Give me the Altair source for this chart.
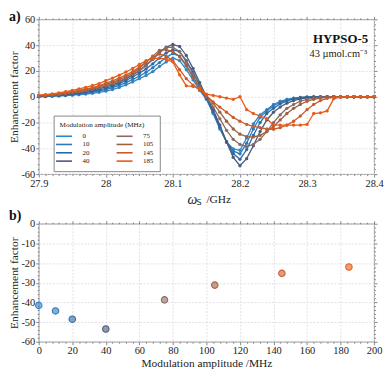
import altair as alt
import pandas as pd

# ---------------- data ----------------
freq = [27.90, 27.91, 27.92, 27.93, 27.94, 27.95, 27.96, 27.97, 27.98, 27.99,
        28.00, 28.01, 28.02, 28.03, 28.04, 28.05, 28.06, 28.07, 28.08, 28.09,
        28.10, 28.11, 28.12, 28.13, 28.14, 28.15, 28.16, 28.17, 28.18, 28.19,
        28.20, 28.21, 28.22, 28.23, 28.24, 28.25, 28.26, 28.27, 28.28, 28.29,
        28.30, 28.31, 28.32, 28.33, 28.34, 28.35, 28.36, 28.37, 28.38, 28.39,
        28.40]

mods = ["0", "10", "20", "40", "75", "105", "145", "185"]
colors = ["#2f86c8", "#2f78b8", "#2f68a0", "#4a5a78",
          "#8a6a62", "#a0603f", "#c85c2a", "#e85a18"]

s0 = [0.0, 0.2, 0.4, 0.6, 0.9, 1.2, 1.6, 2.1, 2.7, 3.4, 4.3,
      5.6, 7.2, 9.2, 11.5, 14.0, 16.5, 19.5, 23.5, 27.0, 30.0,
      28.0, 21.0, 13.0, 5.0, -2.0, -13.0, -25.0, -35.0, -40.5, -41.5,
      -32.0, -21.0, -14.0, -10.0, -6.0, -3.5, -2.0, -1.0, -0.5, -0.3,
      -0.2, -0.1, 0, 0, 0, 0, 0, 0, 0, 0]
s10 = [0.2, 0.3, 0.5, 0.8, 1.1, 1.6, 2.1, 2.8, 3.6, 4.5, 5.5,
       7.0, 8.8, 11.0, 13.4, 16.0, 19.0, 22.5, 26.5, 30.5, 33.5,
       31.5, 24.5, 15.5, 6.5, -1.5, -12.0, -24.0, -35.0, -42.0, -44.3,
       -36.0, -25.0, -16.0, -11.0, -7.0, -4.5, -2.5, -1.2, -0.6, -0.3,
       -0.2, -0.1, 0, 0, 0, 0, 0, 0, 0, 0]
s20 = [0.3, 0.5, 0.7, 1.0, 1.4, 2.0, 2.6, 3.4, 4.3, 5.4, 6.5,
       8.2, 10.2, 12.6, 15.3, 18.2, 21.6, 25.5, 30.0, 34.0, 36.5,
       35.0, 28.0, 19.0, 9.0, -1.0, -11.5, -23.5, -35.0, -44.0, -48.5,
       -41.0, -30.0, -20.0, -13.0, -9.0, -5.5, -3.2, -1.8, -0.9, -0.4,
       -0.2, -0.1, 0, 0, 0, 0, 0, 0, 0, 0]
s40 = [0.5, 0.7, 1.0, 1.4, 1.9, 2.5, 3.2, 4.1, 5.1, 6.3, 7.6,
       9.3, 11.3, 13.8, 16.7, 20.0, 24.3, 29.0, 34.0, 38.5, 40.5,
       39.0, 32.0, 22.0, 11.0, 0.0, -10.0, -22.0, -35.0, -47.0, -53.5,
       -48.0, -38.0, -27.0, -18.0, -12.0, -8.0, -5.0, -3.0, -1.6, -0.8,
       -0.3, -0.1, 0, 0, 0, 0, 0, 0, 0, 0]
s75 = [0.6, 0.9, 1.3, 1.8, 2.4, 3.1, 3.9, 4.8, 5.9, 7.1, 8.5,
       10.2, 12.2, 14.5, 17.2, 20.5, 24.5, 29.0, 35.0, 38.0, 38.5,
       35.0, 27.0, 18.0, 8.5, 0.0, -8.0, -17.0, -26.0, -33.0, -37.0,
       -38.7, -37.0, -33.0, -27.0, -20.0, -14.0, -9.0, -6.0, -3.5, -2.0,
       -1.0, -0.5, -0.2, 0, 0, 0, 0, 0, 0, 0]
s105 = [0.8, 1.1, 1.6, 2.1, 2.8, 3.6, 4.5, 5.5, 6.7, 8.0, 9.5,
        11.2, 13.2, 15.5, 18.2, 22.0, 26.5, 31.5, 36.0, 36.5, 35.0,
        31.0, 24.0, 15.0, 7.0, 0.5, -5.0, -12.0, -19.0, -25.0, -29.0,
        -31.0, -31.2, -30.0, -27.0, -23.0, -18.0, -13.0, -9.0, -6.0, -3.5,
        -2.0, -1.0, -0.4, -0.1, 0, 0, 0, 0, 0, 0]
s145 = [1.0, 1.4, 1.9, 2.5, 3.2, 4.0, 4.9, 5.9, 7.1, 8.5, 10.5,
        12.3, 14.4, 16.8, 19.5, 23.0, 27.0, 31.0, 33.0, 31.5, 28.0,
        21.0, 14.0, 9.0, 5.0, 1.0, -4.0, -8.0, -12.0, -16.0, -19.0,
        -21.5, -23.0, -24.0, -25.0, -25.2, -24.0, -22.0, -19.0, -15.0, -10.0,
        -6.0, -3.0, -1.2, -0.4, 0, 0, 0, 0, 0, 0]
s185 = [1.2, 1.7, 2.3, 3.0, 3.9, 5.0, 6.1, 7.3, 8.7, 10.2, 12.5,
        14.5, 16.7, 19.2, 21.9, 25.0, 28.0, 29.5, 30.0, 29.0, 27.0,
        17.0, 8.5, 8.0, 6.5, 2.0, 1.0, 0.0, -1.0, -2.0, 0.0,
        -10.0, -13.0, -15.0, -17.0, -22.0, -22.0, -22.0, -22.0, -22.0, -21.5,
        -13.0, -12.5, -11.0, -1.5, -0.3, 0, 0, 0, 0, 0]
series = [s0, s10, s20, s40, s75, s105, s145, s185]

mod_amp = [0, 10, 20, 40, 75, 105, 145, 185]
ef_min = [-41.5, -44.3, -48.5, -53.5, -38.7, -31.2, -25.2, -22.0]

# ---------------- tables ----------------
rows = []
for m, s in zip(mods, series):
    for f, v in zip(freq, s):
        rows.append({"f": f, "ef": v, "mod": m})
df = pd.DataFrame(rows)
dfb = pd.DataFrame({"amp": mod_amp, "ef": ef_min, "mod": mods})

cscale = alt.Scale(domain=mods, range=colors)

FONT = "Liberation Serif"
W = 338
HA = 156
HB = 119
GRID = "#d9d9e3"


def cond(test, a, b):
    return {"condition": {"test": test, "value": a}, "value": b}


def major(step):
    return f"abs(datum.value/{step} - round(datum.value/{step})) < 0.001"


def main_axis(vals, lab_step, grid_step, title=None):
    return alt.Axis(values=vals,
                    labelExpr=f"{major(lab_step)} ? '' + datum.value : ''",
                    labelFlush=False, labelOverlap=False,
                    gridColor=GRID, gridWidth=0.8, gridDash=[2, 1.5],
                    gridOpacity=cond(major(grid_step), 1, 0),
                    tickSize=cond(major(lab_step), 3, 1.5),
                    tickColor="#555", tickWidth=0.7,
                    domain=False, labelFont=FONT, labelFontSize=10.5,
                    labelColor="#222", labelPadding=1,
                    title=title, titleFont=FONT, titleFontSize=11.5,
                    titleFontWeight="normal", titleColor="#222",
                    titlePadding=1)


def tick_axis(vals, lab_step, orient):
    return alt.Axis(values=vals, labels=False, grid=False, domain=False,
                    title=None, orient=orient,
                    tickSize=cond(major(lab_step), 3, 1.5),
                    tickColor="#555", tickWidth=0.7)


# ---------------- panel a ----------------
xa_vals = freq
ya_vals = list(range(-60, 61, 4))
xsa = alt.Scale(domain=[27.9, 28.4], nice=False, zero=False)
ysa = alt.Scale(domain=[-60, 60], nice=False)

base_a = alt.Chart(df)
lines = base_a.mark_line(strokeWidth=1.3).encode(
    x=alt.X("f:Q", scale=xsa, axis=main_axis(xa_vals, 0.1, 0.05)),
    y=alt.Y("ef:Q", scale=ysa,
            axis=main_axis(ya_vals, 20, 20, title="Enhancement factor")),
    color=alt.Color("mod:N", scale=cscale, sort=mods,
                    legend=alt.Legend(
                        title="Modulation amplitude (MHz)", orient="none",
                        legendX=15, legendY=97, columns=2,
                        symbolType="M-2.3,0H2.3", symbolSize=49,
                        symbolStrokeWidth=1.6, labelOffset=14,
                        columnPadding=24, rowPadding=0.4, padding=6,
                        fillColor="white", strokeColor="#888",
                        titleFontSize=7.2, labelFontSize=7,
                        titleFont=FONT, labelFont=FONT,
                        titleFontWeight="normal", titlePadding=3,
                        titleColor="#222", labelColor="#222")),
    detail="mod:N",
)
pts = base_a.mark_circle(size=11, opacity=1).encode(
    x=alt.X("f:Q", scale=xsa, axis=tick_axis(xa_vals, 0.1, "top")),
    y=alt.Y("ef:Q", scale=ysa, axis=tick_axis(ya_vals, 20, "right")),
    color=alt.Color("mod:N", scale=cscale, legend=None),
)

hypso = alt.Chart(pd.DataFrame({"t": ["HYPSO-5"]})).mark_text(
    font=FONT, fontSize=13, fontWeight="bold", align="right",
    color="#111").encode(x=alt.value(W - 6), y=alt.value(20), text="t:N")
conc = alt.Chart(pd.DataFrame({"t": ["43 µmol.cm⁻³"]})).mark_text(
    font=FONT, fontSize=10.5, align="right", color="#222").encode(
    x=alt.value(W - 7), y=alt.value(35), text="t:N")
om = alt.Chart(pd.DataFrame({"t": ["ω"]})).mark_text(
    font=FONT, fontSize=14, fontStyle="italic", align="left",
    color="#222").encode(x=alt.value(W / 2 - 19), y=alt.value(HA + 26),
                         text="t:N")
sub = alt.Chart(pd.DataFrame({"t": ["S"]})).mark_text(
    font="DejaVu Sans", fontSize=8, align="left",
    color="#222").encode(x=alt.value(W / 2 - 10), y=alt.value(HA + 29),
                         text="t:N")
ghz = alt.Chart(pd.DataFrame({"t": ["/GHz"]})).mark_text(
    font=FONT, fontSize=11.5, align="left",
    color="#222").encode(x=alt.value(W / 2 + 0), y=alt.value(HA + 26),
                         text="t:N")

panel_a = alt.layer(lines, pts, hypso, conc, om, sub, ghz).resolve_scale(
    color="shared").resolve_axis(x="independent", y="independent").resolve_legend(
    color="independent").properties(
    width=W, height=HA,
    title=alt.TitleParams("a)", anchor="start", frame="bounds", font=FONT,
                          fontSize=14, fontWeight="bold", offset=-10,
                          color="#111"))

# ---------------- panel b ----------------
xb_vals = list(range(0, 201, 4))
yb_vals = list(range(-60, 1, 2))
xsb = alt.Scale(domain=[0, 200], nice=False)
ysb = alt.Scale(domain=[-60, 0], nice=False)

base_b = alt.Chart(dfb)
bpts = base_b.mark_point(filled=True, size=42, fillOpacity=0.6,
                         strokeWidth=1.1).encode(
    x=alt.X("amp:Q", scale=xsb,
            axis=main_axis(xb_vals, 20, 20, title="Modulation amplitude /MHz")),
    y=alt.Y("ef:Q", scale=ysb,
            axis=main_axis(yb_vals, 10, 10, title="Enhancement factor")),
    color=alt.Color("mod:N", scale=cscale, legend=None),
    stroke=alt.Stroke("mod:N", scale=cscale, legend=None),
)
bticks = base_b.mark_point(opacity=0).encode(
    x=alt.X("amp:Q", scale=xsb, axis=tick_axis(xb_vals, 20, "top")),
    y=alt.Y("ef:Q", scale=ysb, axis=tick_axis(yb_vals, 10, "right")),
)
panel_b = alt.layer(bpts, bticks).resolve_axis(
    x="independent", y="independent").properties(
    width=W, height=HB,
    title=alt.TitleParams("b)", anchor="start", frame="bounds", font=FONT,
                          fontSize=14, fontWeight="bold", offset=-4,
                          color="#111"))

chart = alt.vconcat(panel_a, panel_b, spacing=0).properties(
    padding={"left": 0, "top": 0, "right": 0, "bottom": 0},
    background="white"
).configure_axis(
    labelFont=FONT, titleFont=FONT
).configure_view(
    stroke="#777", strokeWidth=0.8
)

chart.save("out.html", embed_options={"renderer": "svg", "actions": False})
